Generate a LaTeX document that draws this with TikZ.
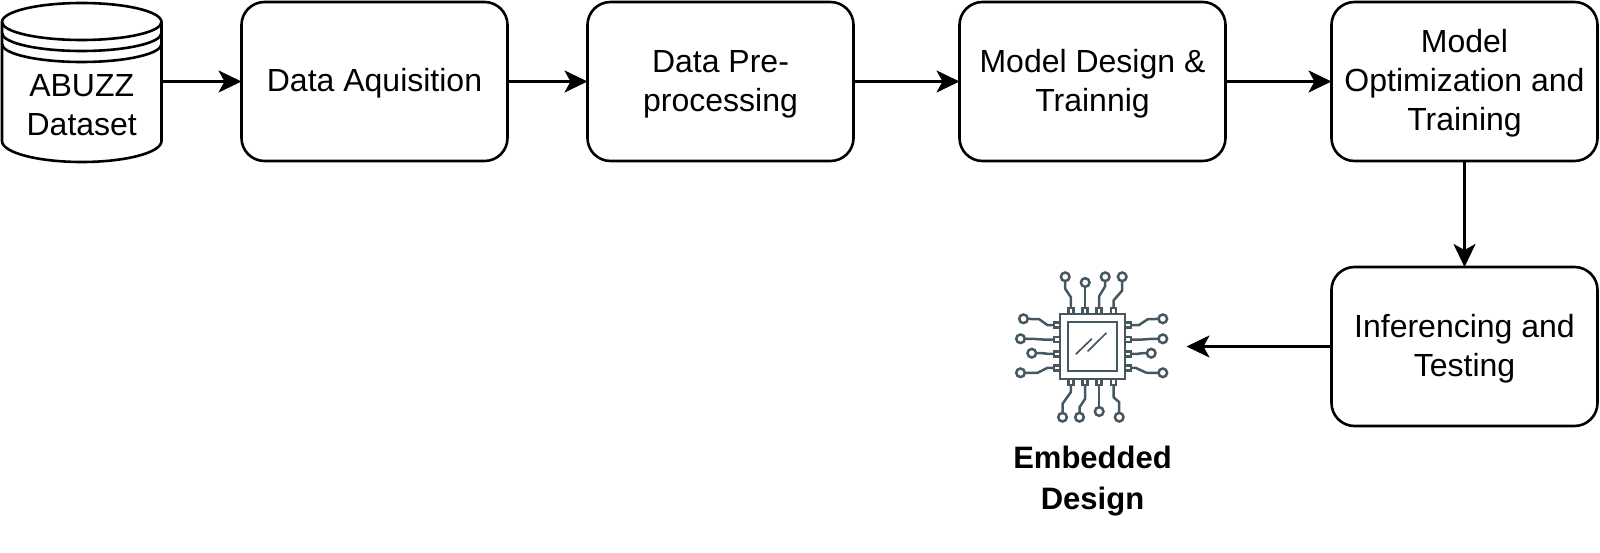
\documentclass[tikz,border=0pt]{standalone}
\usepackage{fontspec}
\setmainfont{Liberation Sans}
\usepackage{tikz}
\usetikzlibrary{matrix,arrows.meta,positioning}
\definecolor{chipgrey}{HTML}{46575F}
\tikzset{
  flowtext/.style={font=\fontsize{32}{39}\selectfont, align=center},
  procbox/.style={flowtext, draw, line width=2.6pt, rounded corners=23pt, minimum width=266pt, minimum height=159pt, inner sep=0pt, outer sep=0pt},
  textdrop/.style={execute at begin node={\rule{0pt}{#1}}},
  storenode/.style={flowtext, minimum width=159.5pt, minimum height=159pt, inner sep=0pt, outer sep=0pt},
  chipnode/.style={minimum size=188pt, inner sep=0pt, outer sep=0pt},
  chiplabel/.style={font=\bfseries\fontsize{31}{41}\selectfont, align=center},
  flowarrow/.style={->, line width=2.6pt},
  chipline/.style={draw=chipgrey, line width=2.5pt},
  >={Stealth[length=23pt,width=22pt,inset=6pt]}
}
\begin{document}
\begin{tikzpicture}[x=1pt,y=-1pt]
  \useasboundingbox (0,0) rectangle (1600,553);
  \matrix (flow) [inner sep=0pt, outer sep=0pt, row sep=103.4pt, column sep=77.4pt, anchor=north west] at (2,0.7)
  {
    \node[storenode] (dataset) {}; &[1.3pt]
    \node[procbox, textdrop=27.5pt] (acq) {Data Aquisition}; &
    \node[procbox, textdrop=66.5pt] (prep) {Data Pre-\\processing}; &[26pt]
    \node[procbox, textdrop=66.5pt] (design) {Model Design \&\\Trainnig}; &[26pt]
    \node[procbox, textdrop=105.5pt] (optim) {Model\\Optimization and\\Training}; \\
    & & & & \node[procbox, textdrop=66.5pt] (infer) {Inferencing and\\Testing}; \\
  };
  \node[chipnode] (chip) at (design |- infer) {};
  % storage drum
  \draw[line width=2.6pt] (dataset.north west) ++(0,20)
    arc[start angle=180, end angle=0, x radius=79.75pt, y radius=19pt]
    -- ++(0,119)
    arc[start angle=0, end angle=-180, x radius=79.75pt, y radius=21pt]
    -- cycle;
  \foreach \drop in {0,11,22}
    \draw[line width=2.6pt] (dataset.north west) ++(0,20+\drop)
      arc[start angle=180, end angle=360, x radius=79.75pt, y radius=18pt];
  \node[flowtext, below=69pt of dataset.north] (datasetlabel) {ABUZZ\\Dataset};
  % chip
  \begin{scope}[shift={(chip.center)}]
    \draw[chipline] (-32.7,-32.7) rectangle (32.7,32.7);
    \draw[chipline] (-24.3,-24.3) rectangle (24.3,24.3);
    \draw[chipgrey, line width=1.7pt] (-16.7,7.7) -- (-0.7,-7.7) (-5,5) -- (14,-13.7);
    \foreach \ax/\ay/\bx/\by/\cx/\cy/\ex/\ey in {
      -21.7/-38.7/-21.7/-49.3/-27.3/-57.7/-27.3/-69.7,
      -7.3/-38.7/-7.3/-50/-7.3/-60/-7.3/-64,
      6.7/-38.7/6.7/-50.3/12.7/-60.3/12.7/-69.7,
      21/-38.7/21/-46/29.7/-56/29.7/-69.7,
      -21.7/38.7/-21.7/45.7/-30/57.3/-30/70.7,
      -7.3/38.7/-7.3/52.3/-13/60.7/-13/70.7,
      6.7/38.7/6.7/50/6.7/60/6.7/65,
      21/38.7/21/50.7/26.7/55.7/26.7/70.7,
      -38.7/-21.3/-45/-21.3/-53.3/-27.3/-69/-27.7,
      -38.7/-7/-50/-7/-60/-7.7/-72/-7.7,
      -38.7/7.3/-45/7.3/-50/6.7/-60.7/6.7,
      -38.7/21.3/-45/21.3/-55/26.3/-72/26.3,
      38.7/-21.3/46.3/-21.3/55.3/-27.3/70.3/-27.7,
      38.7/-7/50/-7/60/-7.7/70.3/-7.7,
      38.7/7.3/45/7.3/50/6.7/58.7/6.7,
      38.7/21.3/43/21.3/54/26.3/70.3/26.3}
    {
      \draw[chipline, line join=round] (\ax,\ay) -- (\bx,\by) -- (\cx,\cy) -- (\ex,\ey);
      \draw[chipline, fill=white] (\ex,\ey) circle[radius=4.3pt];
    }
    \foreach \pos in {-21.7,-7.3,6.7,21}
    {
      \draw[chipline, fill=white] (\pos-2.5,-38.3) rectangle (\pos+2.5,-32.7);
      \draw[chipline, fill=white] (\pos-2.5,32.7) rectangle (\pos+2.5,38.3);
    }
    \foreach \pos in {-21.3,-7,7.3,21.3}
    {
      \draw[chipline, fill=white] (-38.3,\pos-2.5) rectangle (-32.7,\pos+2.5);
      \draw[chipline, fill=white] (32.7,\pos-2.5) rectangle (38.3,\pos+2.5);
    }
  \end{scope}
  \node[chiplabel, below=2pt of chip] (chipname) {Embedded\\Design};
  \path[flowarrow]
  (dataset) edge (acq)
  (acq) edge (prep)
  (prep) edge (design)
  (design) edge (optim)
  (optim) edge (infer)
  (infer) edge (chip)
  ;
\end{tikzpicture}
\end{document}
